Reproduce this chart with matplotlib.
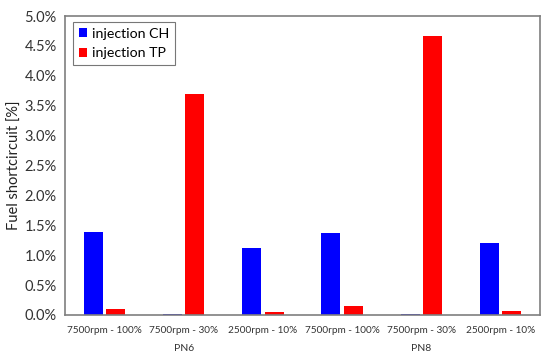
import numpy as np
import matplotlib.pyplot as plt
import matplotlib.ticker as mtick

plt.rcParams['font.family'] = ['Lato', 'DejaVu Sans']

# data
categories = ["7500rpm - 100%", "7500rpm - 30%", "2500rpm - 10%",
              "7500rpm - 100%", "7500rpm - 30%", "2500rpm - 10%"]
groups = ["PN6", "PN8"]
inj_ch = [1.38, 0.02, 1.115, 1.365, 0.02, 1.20]
inj_tp = [0.095, 3.69, 0.055, 0.156, 4.66, 0.067]

fig = plt.figure(figsize=(5.5, 3.62), dpi=100)
ax = fig.add_axes([65/550, 1-315/362, 475/550, 299/362])

x = np.arange(len(categories))
w = 0.24
ax.bar(x - 0.14, inj_ch, w, color='#0000ff', label='injection CH')
ax.bar(x + 0.14, inj_tp, w, color='#ff0000', label='injection TP')

ax.set_xlim(-0.5, len(categories) - 0.5)
ax.set_ylim(0, 5.0)
ax.set_yticks(np.arange(0, 5.01, 0.5))
ax.yaxis.set_major_formatter(mtick.FormatStrFormatter('%.1f%%'))
ax.set_xticks(x)
ax.set_xticklabels(categories, fontsize=7.2, color='#333333')
ax.tick_params(axis='both', length=0, pad=8)
ax.tick_params(axis='y', labelsize=10.5, pad=6, labelcolor='#333333')

for s in ax.spines.values():
    s.set_color('#7f7f7f')
    s.set_linewidth(1.2)

ax.set_ylabel('Fuel shortcircuit [%]', fontsize=10.5, color='#222222', labelpad=2)

# group labels
for i, g in enumerate(groups):
    ax.text(1 + 3*i, -0.56, g, ha='center', va='center', fontsize=7.5,
            color='#333333', transform=ax.transData)

leg = ax.legend(loc='upper left', bbox_to_anchor=(0.017, 0.98), fontsize=10.2,
                fancybox=False, handlelength=0.6, handleheight=0.6,
                handletextpad=0.35, borderpad=0.4, labelspacing=0.55,
                borderaxespad=0)
leg.get_frame().set_edgecolor('#555555')
leg.get_frame().set_linewidth(0.8)

plt.savefig('out.png', dpi=100)
